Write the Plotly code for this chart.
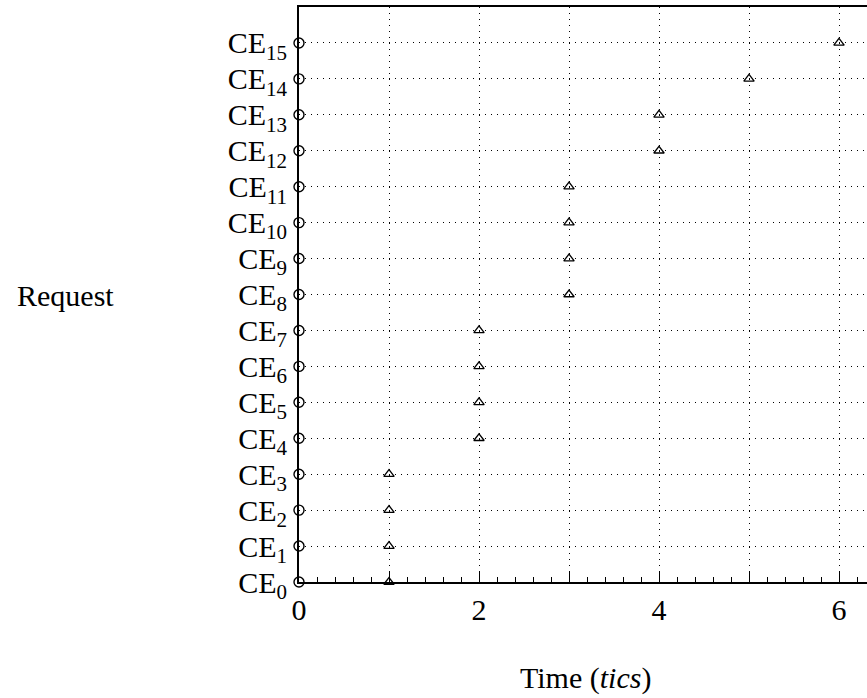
import plotly.graph_objects as go

requests = list(range(16))
times = [1, 1, 1, 1, 2, 2, 2, 2, 3, 3, 3, 3, 4, 4, 5, 6]
y_labels = [f"CE<sub>{i}</sub>" for i in requests]
x_tickvals = [0, 1, 2, 3, 4, 5, 6]
x_ticktext = ["0", "", "2", "", "4", "", "6"]

FONT = "Liberation Serif"
FS = 30

fig = go.Figure()
fig.add_trace(go.Scatter(
    x=[0] * len(requests), y=requests, mode="markers",
    marker=dict(symbol="circle-open", size=10, color="black", line=dict(width=1.4)),
    cliponaxis=False, showlegend=False))
fig.add_trace(go.Scatter(
    x=times, y=requests, mode="markers",
    marker=dict(symbol="triangle-up-open", size=9, color="black", line=dict(width=1.3)),
    cliponaxis=False, showlegend=False))

pw, ph = 867 - 299, 698 - 7 - 116

fig.update_layout(
    width=867, height=698,
    margin=dict(l=299, r=0, t=7, b=116),
    paper_bgcolor="white", plot_bgcolor="white",
    font=dict(family=FONT, size=FS, color="black"),
    xaxis=dict(
        range=[0, pw / 90], tickmode="array", tickvals=x_tickvals, ticktext=x_ticktext,
        ticks="inside", ticklen=10, tickwidth=1, tickcolor="black",
        showline=True, linecolor="black", linewidth=2, mirror=True,
        showgrid=True, gridcolor="black", gridwidth=1, griddash="1px,5px",
        minor=dict(dtick=0.2, tick0=0, ticks="inside", ticklen=5, tickcolor="black", showgrid=False),
        zeroline=False, tickfont=dict(family=FONT, size=FS),
    ),
    yaxis=dict(
        range=[0, 16], tickmode="array", tickvals=requests, ticktext=y_labels,
        ticks="", showline=True, linecolor="black", linewidth=2,
        showgrid=True, gridcolor="black", gridwidth=1, griddash="1px,5px",
        zeroline=False, tickfont=dict(family=FONT, size=FS), ticklabelstandoff=4,
    ),
    annotations=[
        dict(text="Request", x=(15 - 299) / pw, y=(698 - 116 - 295) / ph, xref="paper", yref="paper",
             xanchor="left", yanchor="middle", showarrow=False, font=dict(family=FONT, size=FS)),
        dict(text="Time (<i>tics</i>)", x=(585 - 299) / pw, y=(698 - 116 - 678) / ph, xref="paper", yref="paper",
             xanchor="center", yanchor="middle", showarrow=False, font=dict(family=FONT, size=FS)),
    ],
)
fig.write_html("out.html")
